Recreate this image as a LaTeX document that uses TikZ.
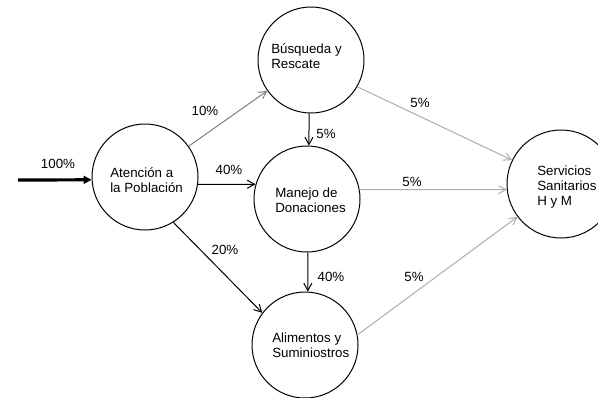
\documentclass[tikz,border=0pt]{standalone}
\usepackage{fontspec}
\setmainfont{Liberation Sans}
\usetikzlibrary{arrows.meta}
\begin{document}
\begin{tikzpicture}[x=0.75pt,y=-0.75pt,
  stage/.style={circle,draw=black,line width=0.75pt,minimum size=79.5pt,inner sep=0pt},
  txt/.style={anchor=west,align=left,font=\fontsize{10}{11.25}\selectfont,inner sep=0pt},
  pct/.style={font=\fontsize{10}{12}\selectfont,inner sep=0pt},
  flow/.style={line width=0.75pt,-{Straight Barb[length=5.5pt,width=6pt]}},
  blackflow/.style={flow,draw=black},
  grayflow/.style={flow,draw=black!50},
  lightflow/.style={flow,draw=black!32},
  inflow/.style={line width=2.4pt,draw=black,-{Triangle[length=6pt,width=6pt]}}]
\useasboundingbox (0,0) rectangle (598,397);
\clip (0,0) rectangle (598,397);
% circles
\node[stage] (A) at (145,177) {};
\node[stage] (B) at (311,60) {};
\node[stage] (M) at (307,199) {};
\node[stage] (L) at (305,345) {};
\node[stage,minimum size=81pt] (S) at (561,184) {};
% texts
\node[txt] (tA) at (110,180) {Atención a\\la Población};
\node[txt] (tB) at (271,56) {Búsqueda y\\Rescate};
\node[txt] (tM) at (275,200) {Manejo de\\Donaciones};
\node[txt] (tL) at (272,345) {Alimentos y\\Suminiostros};
\node[txt] (tS) at (537,187) {Servicios\\Sanitarios\\H y M};
% connectors
\coordinate (in) at (18,180);
\draw[inflow] (in) -- (A.183);
\draw[grayflow] (A) -- (B);
\draw[blackflow] (A.-8) -- (M.164);
\draw[blackflow] (A.-58) -- (L.143);
\draw[blackflow] (B.-92) -- (M.88);
\draw[blackflow] (M.-89) -- (L.87);
\draw[lightflow] (B.-30) -- (S.154);
\draw[lightflow] (M.10) -- (S.186);
\draw[lightflow] (L.11) -- (S.217);
% labels
\node[pct] (p100) at (58,164) {100\%};
\node[pct] (p10) at (205,111) {10\%};
\node[pct] (p40a) at (229,170) {40\%};
\node[pct] (p20) at (225,250) {20\%};
\node[pct] (p5a) at (326,134) {5\%};
\node[pct] (p40b) at (331,277) {40\%};
\node[pct] (p5b) at (420,103) {5\%};
\node[pct] (p5c) at (412,182) {5\%};
\node[pct] (p5d) at (414,277) {5\%};
\end{tikzpicture}
\end{document}
